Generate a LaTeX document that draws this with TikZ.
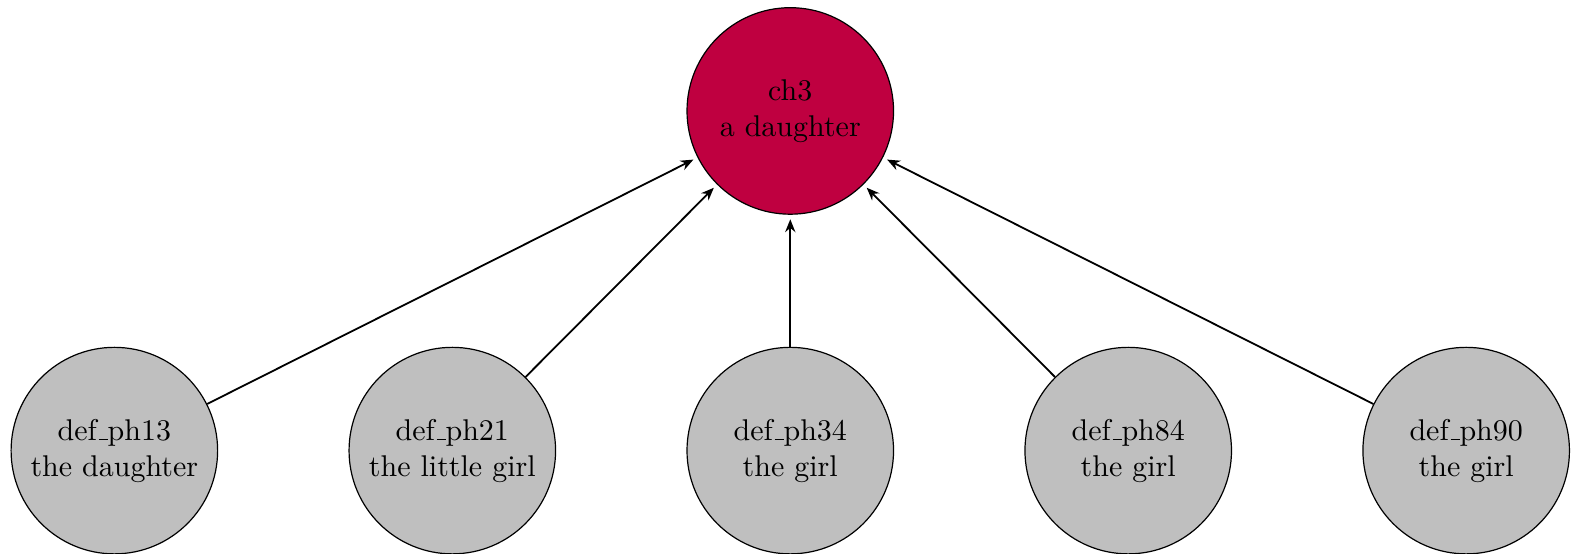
\documentclass[tikz,border=0pt]{standalone}
\usepackage{tikz}
\usetikzlibrary{arrows.meta}
\definecolor{chaincol}{RGB}{191,0,64}
\newcommand{\usc}{\leavevmode\kern.06em\vbox{\hrule width.3em}}

\begin{document}
\begin{tikzpicture}
        \useasboundingbox (0, 0) rectangle (18.42, 6.49);
        \tikzset{
            ment/.style={circle, draw, fill=black!25, minimum size=2.42cm, inner sep=0pt, align=center},
            chain/.style={ment, fill=chaincol}
        }
        \node[chain] at (9.26, 5.19)   (ch3) {ch3\\a daughter};
        \node[ment] at (1.34, 1.21)    (ph13) {def\usc ph13\\the daughter};
        \node[ment] at (5.30, 1.21)    (ph21) {def\usc ph21\\the little girl};
        \node[ment] at (9.26, 1.21)    (ph34) {def\usc ph34\\the girl};
        \node[ment] at (13.22, 1.21)   (ph84) {def\usc ph84\\the girl};
        \node[ment] at (17.18, 1.21)   (ph90) {def\usc ph90\\the girl};
        
        \foreach \m in {ph13, ph21, ph34, ph84, ph90}
            \draw [-{Stealth[length=1.5mm, width=1.2mm]}, semithick, shorten >=1.5pt] (\m) -- (ch3);
    \end{tikzpicture}
\end{document}
